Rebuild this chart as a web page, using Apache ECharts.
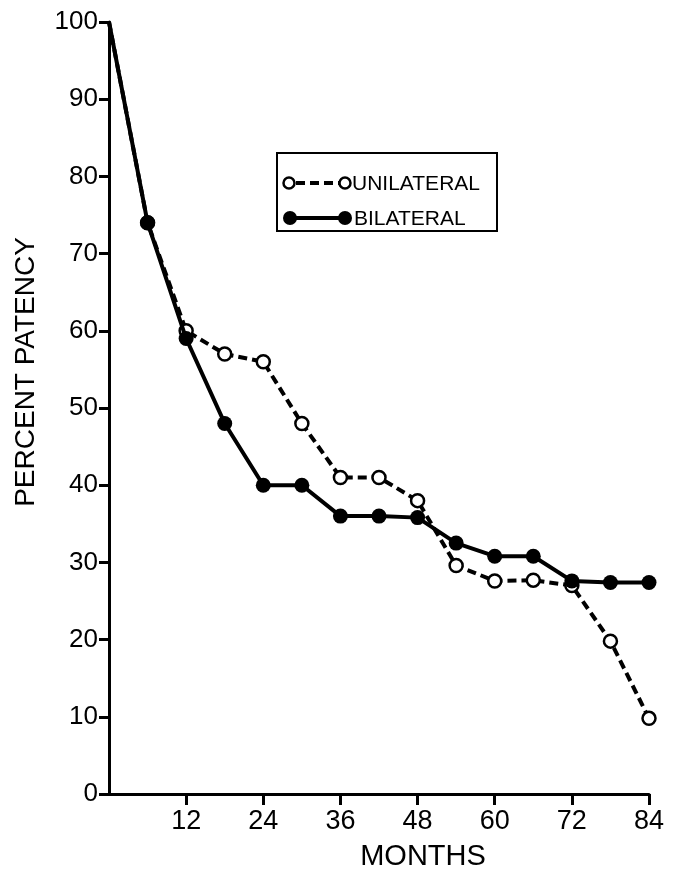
<!DOCTYPE html>
<html>
<head>
<meta charset="utf-8">
<script src="https://cdn.jsdelivr.net/npm/echarts@6/dist/echarts.min.js"></script>
<style>
  html, body { margin: 0; padding: 0; background: #fff; }
  #main { width: 679px; height: 874px; }
</style>
</head>
<body>
<div id="main"></div>
<script>
// months of follow-up
var months = [0, 6, 12, 18, 24, 30, 36, 42, 48, 54, 60, 66, 72, 78, 84];
// percent patency
var unilateral = [100, 74, 60, 57, 56, 48, 41, 41, 38, 29.6, 27.6, 27.7, 27, 19.8, 9.8];
var bilateral = [100, 74, 59, 48, 40, 40, 36, 36, 35.8, 32.5, 30.8, 30.8, 27.6, 27.4, 27.4];
var xTicks = [12, 24, 36, 48, 60, 72, 84];

var chart = echarts.init(document.getElementById('main'));

var toPoints = function (values) {
    var pts = [];
    for (var i = 0; i < months.length; i++) {
        if (i == 0) {
            pts.push({ value: [months[i], values[i]], symbol: 'none' });
        } else {
            pts.push([months[i], values[i]]);
        }
    }
    return pts;
};

var font = 'Liberation Sans, Arial, sans-serif';

chart.setOption({
    animation: false,
    backgroundColor: '#fff',
    grid: { left: 109, right: 30, top: 22, bottom: 80 },
    xAxis: {
        type: 'value',
        min: 0,
        max: 84,
        interval: 12,
        splitLine: { show: false },
        axisLine: { lineStyle: { color: '#000', width: 3 } },
        axisTick: {
            customValues: xTicks,
            length: 11,
            lineStyle: { color: '#000', width: 3 }
        },
        axisLabel: {
            customValues: xTicks,
            margin: 14,
            color: '#000',
            fontFamily: font,
            fontSize: 27
        }
    },
    yAxis: {
        type: 'value',
        min: 0,
        max: 100,
        interval: 10,
        splitLine: { show: false },
        axisLine: { lineStyle: { color: '#000', width: 3 } },
        axisTick: { length: 10, lineStyle: { color: '#000', width: 3 } },
        axisLabel: {
            margin: 11,
            color: '#000',
            fontFamily: font,
            fontSize: 26
        }
    },
    series: [{
        name: 'UNILATERAL',
        type: 'line',
        data: toPoints(unilateral),
        symbol: 'circle',
        symbolSize: 13,
        itemStyle: { color: '#fff', borderColor: '#000', borderWidth: 2.5 },
        lineStyle: { color: '#000', width: 4, type: [9, 5] },
        z: 2
    }, {
        name: 'BILATERAL',
        type: 'line',
        data: toPoints(bilateral),
        symbol: 'circle',
        symbolSize: 15,
        itemStyle: { color: '#000' },
        lineStyle: { color: '#000', width: 4 },
        z: 3
    }],
    graphic: [
        // axis titles
        {
            type: 'text', x: 26, y: 372, rotation: Math.PI / 2,
            style: { text: 'PERCENT PATENCY', font: '28px ' + font, fill: '#000', align: 'center', verticalAlign: 'middle' }
        },
        {
            type: 'text', x: 423, y: 857,
            style: { text: 'MONTHS', font: '29px ' + font, fill: '#000', align: 'center', verticalAlign: 'middle' }
        },
        // legend box
        {
            type: 'rect', shape: { x: 277, y: 153, width: 220, height: 78 },
            style: { fill: '#fff', stroke: '#000', lineWidth: 2 }
        },
        {
            type: 'line', shape: { x1: 296, y1: 183, x2: 339, y2: 183 },
            style: { stroke: '#000', lineWidth: 4, lineDash: [9, 5] }
        },
        { type: 'circle', shape: { cx: 289, cy: 183, r: 5.5 }, style: { fill: '#fff', stroke: '#000', lineWidth: 2.5 } },
        { type: 'circle', shape: { cx: 345, cy: 183, r: 5.5 }, style: { fill: '#fff', stroke: '#000', lineWidth: 2.5 } },
        {
            type: 'text', x: 352, y: 184,
            style: { text: 'UNILATERAL', font: '21px ' + font, fill: '#000', verticalAlign: 'middle' }
        },
        {
            type: 'line', shape: { x1: 290, y1: 218, x2: 345, y2: 218 },
            style: { stroke: '#000', lineWidth: 4 }
        },
        { type: 'circle', shape: { cx: 290, cy: 218, r: 7 }, style: { fill: '#000' } },
        { type: 'circle', shape: { cx: 345, cy: 218, r: 7 }, style: { fill: '#000' } },
        {
            type: 'text', x: 354, y: 219,
            style: { text: 'BILATERAL', font: '21px ' + font, fill: '#000', verticalAlign: 'middle' }
        }
    ]
});
</script>
</body>
</html>
